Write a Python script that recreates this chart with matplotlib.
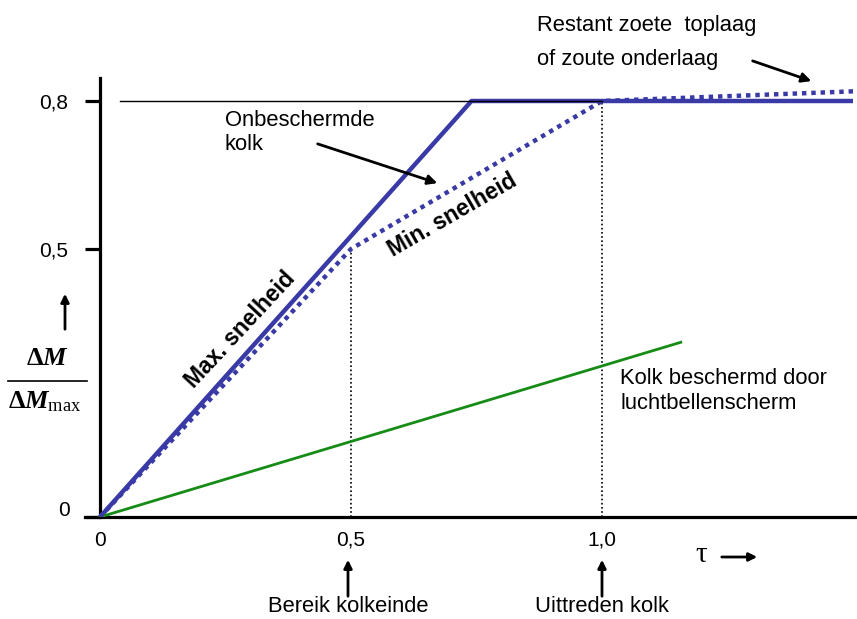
import numpy as np
import matplotlib
matplotlib.use("Agg")
import matplotlib.pyplot as plt
from matplotlib.transforms import ScaledTranslation

plt.rcParams['font.family'] = ['Liberation Sans', 'DejaVu Sans']
plt.rcParams['mathtext.fontset'] = 'custom'
plt.rcParams['mathtext.rm'] = 'Liberation Serif'
plt.rcParams['mathtext.it'] = 'Liberation Serif:italic:bold'
plt.rcParams['mathtext.bf'] = 'Liberation Serif:bold'

# ---- data ----
tau_max = [0.0, 0.477, 0.74, 1.50]
dm_max = [0.0, 0.50, 0.80, 0.80]
tau_min = [0.0, 0.50, 1.00, 1.51]
dm_min = [0.0, 0.50, 0.80, 0.82]
tau_prot = [0.0, 1.157]
dm_prot = [0.0, 0.326]
tau_ref = [0.04, 1.0]
dm_ref = [0.8, 0.8]
vline_tau = [0.5, 1.0]
vline_top = [0.5, 0.8]
xtick_pos = [0.0, 0.5, 1.0]
xtick_lab = ['0', '0,5', '1,0']
ytick_pos = [0.0, 0.5, 0.8]
ytick_lab = ['0', '0,5', '0,8']

# schematic (piecewise) vertical scale as drawn in the original
def fwd(y):
    y = np.asarray(y, dtype=float)
    return np.where(y <= 0.5, y * 536.0, 268.0 + (y - 0.5) * (148.0 / 0.3))

def inv(v):
    v = np.asarray(v, dtype=float)
    return np.where(v <= 268.0, v / 536.0, 0.5 + (v - 268.0) * (0.3 / 148.0))

W, H = 857, 619
fig = plt.figure(figsize=(W / 100, H / 100), dpi=100)
ax = fig.add_axes([85 / W, 102 / H, (857 - 85) / W, (517 - 78) / H])
ax.set_yscale('function', functions=(fwd, inv))
ax.set_xlim(-15 / 502, 757 / 502)
ax.set_ylim(0, float(inv(439.0)))

blue = '#3a3aa6'
green = '#168c16'

ax.plot(tau_max, dm_max, color=blue, lw=3.2, solid_capstyle='butt', zorder=3)
ax.plot(tau_min, dm_min, color=blue, lw=3.2, linestyle=(0, (1, 1.1)),
        dash_capstyle='butt', zorder=4)
ax.plot(tau_ref, dm_ref, color='black', lw=1.0, zorder=5)
ax.plot(tau_prot, dm_prot, color=green, lw=2.0, zorder=3)
ax.vlines(vline_tau, 0, vline_top, colors='black', linestyles=(0, (1, 1.5)),
          lw=1.2, zorder=2)

for s in ['top', 'right']:
    ax.spines[s].set_visible(False)
ax.spines['left'].set_position(('data', 0))
ax.spines['left'].set_linewidth(2.3)
ax.spines['bottom'].set_linewidth(2.3)

ax.set_yticks(ytick_pos)
ax.set_yticklabels(ytick_lab, fontsize=15)
ax.tick_params(axis='y', length=11, width=2.3, direction='out', pad=12)
ax.set_xticks(xtick_pos)
ax.set_xticklabels(xtick_lab, fontsize=15)
ax.tick_params(axis='x', length=0, pad=10)
ax.minorticks_off()
lab0 = ax.get_yticklabels()[0]
lab0.set_transform(lab0.get_transform() + ScaledTranslation(2 / 100, 9 / 100, fig.dpi_scale_trans))

def P(x, y):
    return (x / W, 1 - y / H)

tf = fig.transFigure
fs = 15.8
arrow = dict(arrowstyle='-|>', lw=2, color='black', mutation_scale=14)

# annotations
ax.text(*P(225, 110), 'Onbeschermde\nkolk', transform=tf, fontsize=fs,
        ha='left', va='top', linespacing=1.2)
ax.annotate('', xy=P(440, 184), xytext=P(315, 143), xycoords='figure fraction',
            textcoords='figure fraction', arrowprops=arrow)

ax.text(*P(537, 25), 'Restant zoete  toplaag', transform=tf, fontsize=fs,
        ha='left', va='center')
ax.text(*P(537, 60), 'of zoute onderlaag', transform=tf, fontsize=fs,
        ha='left', va='center')
ax.annotate('', xy=P(814, 82), xytext=P(750, 60), xycoords='figure fraction',
            textcoords='figure fraction', arrowprops=arrow)

ax.text(*P(620, 391), 'Kolk beschermd door\nluchtbellenscherm', transform=tf,
        fontsize=fs, ha='left', va='center', linespacing=1.25)

ax.text(*P(240, 330), 'Max. snelheid', transform=tf, fontsize=16.5, fontweight='bold',
        rotation=47, ha='center', va='center', rotation_mode='anchor')
ax.text(*P(452, 215), 'Min. snelheid', transform=tf, fontsize=16.5, fontweight='bold',
        rotation=30, ha='center', va='center', rotation_mode='anchor')

# tau arrow
ax.text(*P(701, 555), 'τ', transform=tf, fontsize=21, ha='center', va='center',
        family=['Liberation Serif', 'DejaVu Serif'])
ax.annotate('', xy=P(760, 557), xytext=P(719, 557), xycoords='figure fraction',
            textcoords='figure fraction',
            arrowprops=dict(arrowstyle='-|>', lw=2, color='black', mutation_scale=12))

# bottom arrows + labels
for xp, lab in [(348, 'Bereik kolkeinde'), (602, 'Uittreden kolk')]:
    ax.annotate('', xy=P(xp, 557), xytext=P(xp, 599), xycoords='figure fraction',
                textcoords='figure fraction',
                arrowprops=dict(arrowstyle='-|>', lw=2, color='black', mutation_scale=12))
    ax.text(*P(xp, 607), lab, transform=tf, fontsize=fs, ha='center', va='center')

# y label
ax.annotate('', xy=P(65, 291), xytext=P(65, 332), xycoords='figure fraction',
            textcoords='figure fraction',
            arrowprops=dict(arrowstyle='-|>', lw=2, color='black', mutation_scale=12))
ax.text(*P(47, 358), r'$\mathbf{\Delta}M$', transform=tf, fontsize=19,
        ha='center', va='center')
ax.plot([8 / W, 87 / W], [1 - 381 / H, 1 - 381 / H], transform=tf, color='black',
        lw=1.2, clip_on=False)
ax.text(*P(45, 402), r'$\mathbf{\Delta}M_{\mathrm{max}}$', transform=tf, fontsize=19,
        ha='center', va='center')

fig.savefig('out.png', dpi=100)
